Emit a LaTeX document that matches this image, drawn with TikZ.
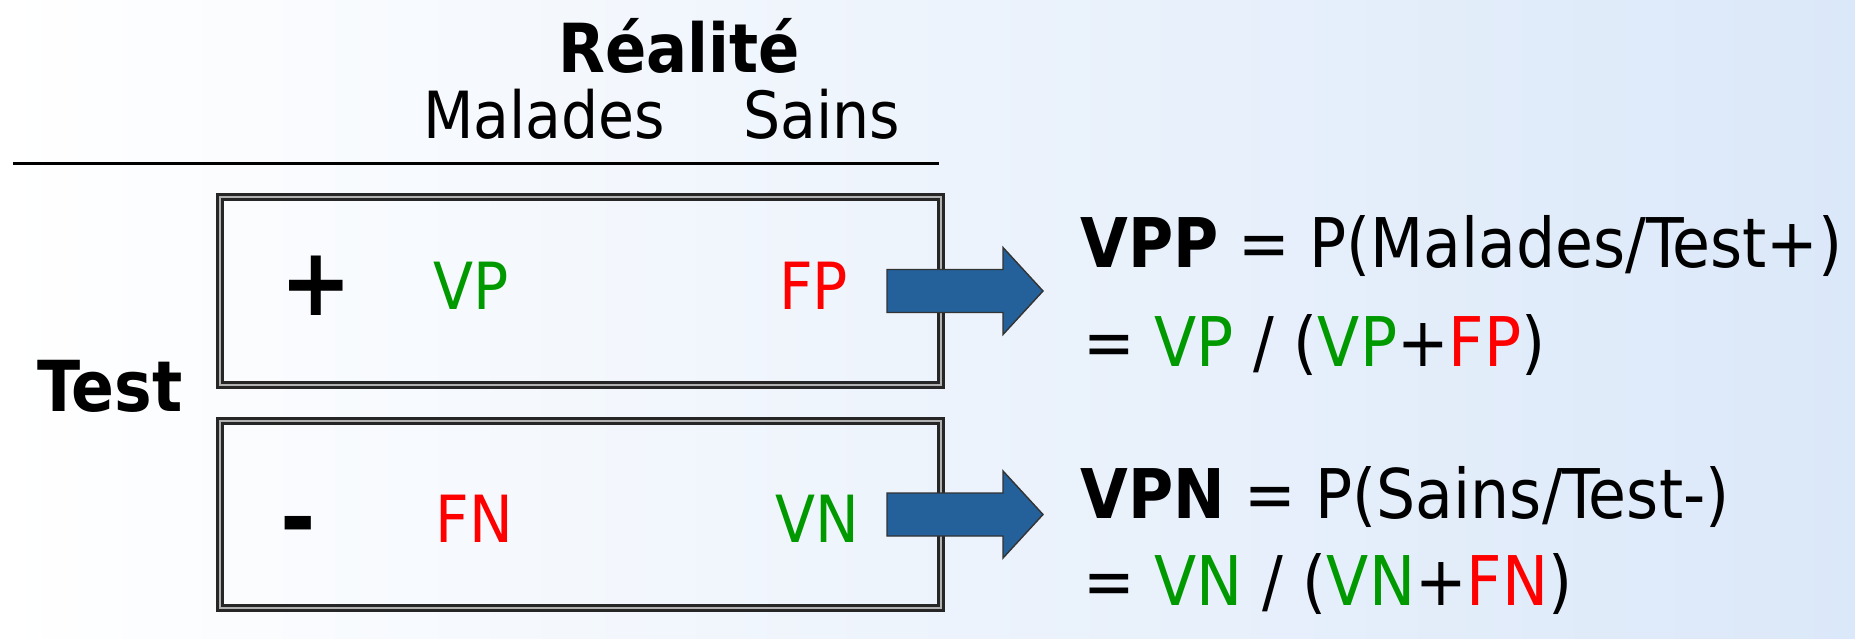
\documentclass[tikz,border=0pt]{standalone}
\usepackage{fontspec}
\setmainfont{DejaVu Sans Condensed}
\usepackage{tikz}
\usetikzlibrary{positioning}
\usetikzlibrary{calc}
\definecolor{vgreen}{RGB}{0,153,0}
\definecolor{fred}{RGB}{255,0,0}
\definecolor{arrowblue}{RGB}{36,96,154}
\definecolor{bgblue}{RGB}{219,232,249}
\tikzstyle{blockarrow} = [draw=black!80, line width=0.8pt, fill=arrowblue]

\begin{document}
\begin{tikzpicture}[cell/.style={draw=black!85, line width=1.7pt, double=black!30, double distance=1.1pt, rectangle, outer sep=0pt},
				every node/.style={inner sep=0pt, font=\fontsize{37}{44}\selectfont},
				sign/.style={font=\fontsize{54}{60}\selectfont\bfseries},
				formula/.style={anchor=base west, font=\fontsize{39}{46}\selectfont}]
				\shade[left color=white, right color=bgblue] (0,0) rectangle (37.1,-12.76);
				
				\node[anchor=base, font=\fontsize{38.5}{46}\selectfont\bfseries](reality) at (13.58,-1.44) {Réalité};
				\node[anchor=base west](sick) at (8.46,-2.76) {Malades};
				\node[base right=1.54cm of sick](healthy) {Sains};
				\draw[line width=1.5pt] (0.26,-3.27) -- (18.78,-3.27);
				
				\node[cell, minimum width=14.42cm, minimum height=3.76cm](pos) at (11.61,-5.82) {};
				\node[cell, minimum width=14.42cm, minimum height=3.74cm](neg) at (11.61,-10.29) {};
				\node[anchor=base, font=\fontsize{40}{48}\selectfont\bfseries](test) at (2.2,-8.22) {Test};
				
				\node[sign](plus) at (6.33,-5.72) {+};
				\node[sign, anchor=base](minus) at (5.97,-11.0) {-};
				\node[anchor=base, text=vgreen](vp) at (9.43,-6.18) {VP};
				\node[anchor=base, text=fred](fp) at (16.27,-6.18) {FP};
				\node[anchor=base, text=fred](fn) at (9.49,-10.84) {FN};
				\node[anchor=base, text=vgreen](vn) at (16.35,-10.84) {VN};
				
				\draw[blockarrow] ([xshift=-1.08cm]pos.east) ++(0,0.43) -- ++(2.32,0) -- ++(0,0.44) -- ++(0.8,-0.87) -- ++(-0.8,-0.87) -- ++(0,0.44) -- ++(-2.32,0) -- cycle;
				\draw[blockarrow] ([xshift=-1.08cm]neg.east) ++(0,0.43) -- ++(2.32,0) -- ++(0,0.44) -- ++(0.8,-0.87) -- ++(-0.8,-0.87) -- ++(0,0.44) -- ++(-2.32,0) -- cycle;
				
				\node[formula](vpp) at (21.60,-5.34) {\textbf{VPP} = P(Malades/Test+)};
				\node[formula](vppval) at (21.66,-7.32) {= \textcolor{vgreen}{VP} / (\textcolor{vgreen}{VP}+\textcolor{fred}{FP})};
				\node[formula](vpn) at (21.60,-10.36) {\textbf{VPN} = P(Sains/Test-)};
				\node[formula](vpnval) at (21.66,-12.10) {= \textcolor{vgreen}{VN} / (\textcolor{vgreen}{VN}+\textcolor{fred}{FN})};
				
			\end{tikzpicture}
\end{document}
